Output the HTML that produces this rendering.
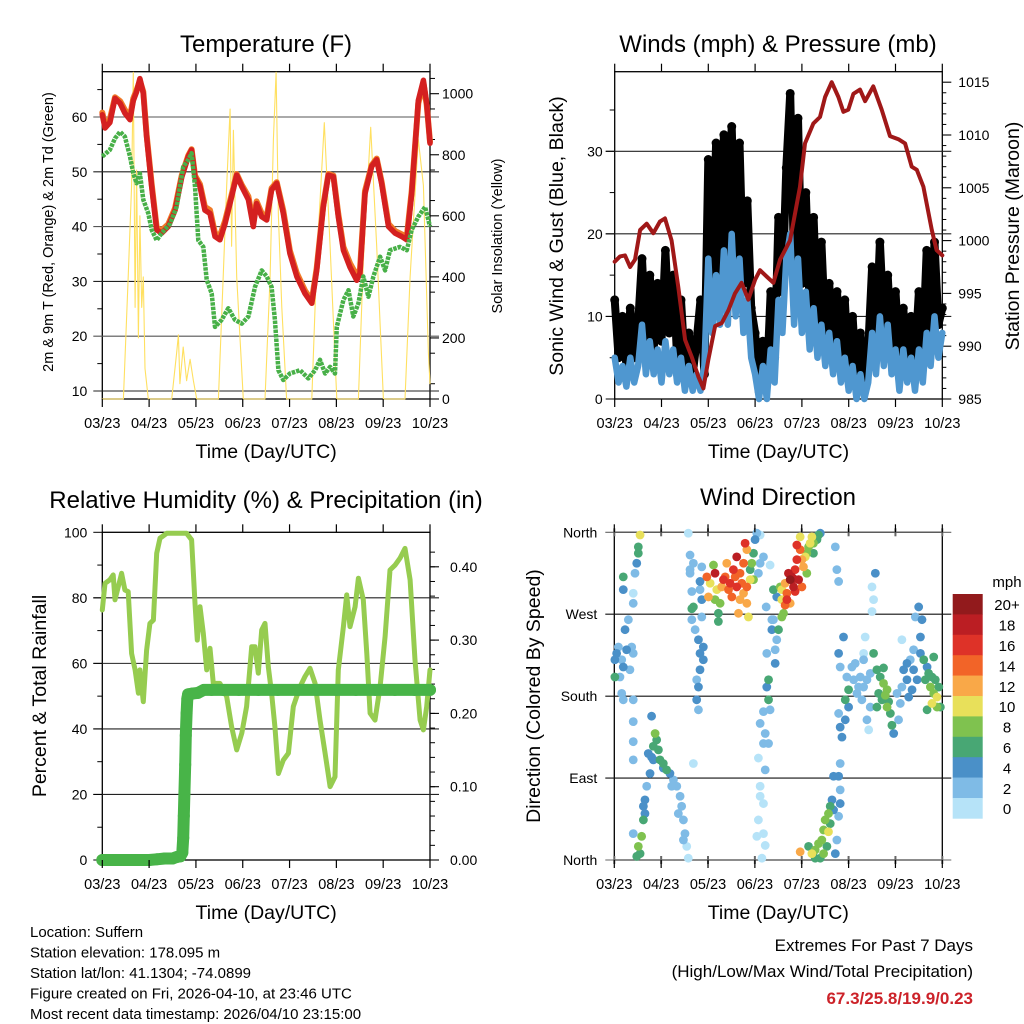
<!DOCTYPE html>
<html><head><meta charset="utf-8"><title>Station Meteogram</title>
<style>
html,body{margin:0;padding:0;background:#fff;}
svg{display:block;font-family:"Liberation Sans",Arial,sans-serif;}
</style></head>
<body>
<svg id="chart" width="1024" height="1024" viewBox="0 0 1024 1024" xmlns="http://www.w3.org/2000/svg">
<rect x="0" y="0" width="1024" height="1024" fill="#fff"/>
</svg>
<script>
// ---------- data ----------
const dayLabels = ["03/23","04/23","05/23","06/23","07/23","08/23","09/23","10/23"];
const tempHours = [0,1.4,3.9,6.5,9.1,11.6,14.2,15.9,17.6,19.3,21,22.7,25.3,27.9,30.4,33.8,37.3,40.7,44.1,45.8,47.5,50.1,52.6,55.2,57.8,60.3,62.9,66.3,68.9,71.5,74.9,77.4,79.1,81.7,84.3,86.8,89.4,92.8,96.2,99.7,103.9,107.4,109.9,113.3,115.9,118.5,121,123.6,127,130.4,132.1,134.7,138.1,140.7,143.2,146.7,150.1,153.5,156.1,158.6,162,164.6,166.3,168];
const tempF = [60.4,58,59,63.4,62.5,60.7,59.5,63,64.6,67,64.3,56.4,47.3,39.4,38.8,40,43,49,52.8,54,49,47.3,43,42.4,38.2,37.6,40.5,45.4,49.4,47.3,44.9,40,44.2,41.8,41.2,46.7,47.9,42.4,35.1,30.9,27.8,26,32,43.6,49.4,49.1,41.8,35.7,32.6,30.2,31.5,46,51,52.2,47.9,40,38.8,38.2,37.6,46,63,66.7,62.5,55.2];
const tempF9m = [60.8,58.6,59.6,63.6,62.9,61.3,60.1,63.4,64.9,66.6,64.6,56.8,47.7,39.8,39.3,40.4,43.4,49.3,53,54.1,49.3,47.7,43.6,43,38.8,38.3,41,45.8,49.6,47.6,45.5,40.7,44.6,42.4,41.8,47,48.1,42.9,35.6,31.5,28.3,26.5,32.4,43.9,49.6,49.3,42.3,36.3,33.3,31.1,32.2,46.5,51.2,52.4,48.2,40.5,39.2,38.6,38.1,46.5,62.5,66.2,62.2,55.5];
const dewHours = [0,3.9,6.5,9.1,11.6,14.2,15.9,17.6,19.3,21,23.6,25.3,27.9,30.4,34.7,38.1,41.5,44.1,45.8,47.5,49.2,51.8,53.5,56.1,57.8,61.2,64.6,68,71.5,74.9,78.3,81.7,84.3,86.8,88.5,90.3,92.8,96.2,101.4,105.6,109.1,111.6,114.2,116.8,119.3,120.2,123.6,126.2,128.7,131.3,133.8,136.4,139,142.4,145,147.5,152.6,156.1,158.6,162,165.5,168];
const dewF = [52.8,54,56.1,57.3,56.4,52.8,49.7,47.9,49.7,44.9,42.4,39.4,37.5,38.8,40.5,43.6,50.9,52.2,53.4,47.3,37.5,36.3,30.3,27.8,21.7,23,25.1,23,22.3,23.6,29,32,30.9,29,23,13.8,12,13.2,13.8,12.3,13.8,15.7,13.2,14.4,13.2,21.7,26.6,28.4,23.6,26,30.9,27.2,30.9,34.5,32,35.7,36.3,35.7,39.4,41.8,43.6,40];
const solarHours = [0,10.8,13.3,15,15.9,16.8,17.6,18.5,19.3,20.2,21,21.9,23.6,35.6,38.1,39,39.8,41.5,43.2,45,46.7,48.4,59.5,62,63.8,65.5,66.3,67.2,68.9,70.6,72.3,83.4,86,87.7,89.1,90.3,92,94.5,107.4,109.9,113.8,116.8,120.2,131.3,133.8,137.6,140.7,144.1,155.2,157.8,162,164.6,167.2,168];
const solarWm2 = [0,0,400,700,1070,300,750,200,600,300,400,100,0,0,150,210,50,170,60,130,60,0,0,400,700,950,500,880,400,200,0,0,400,850,1070,600,300,0,0,450,905,500,0,0,450,890,500,0,0,400,850,700,150,50];
const tempTicks = [10,20,30,40,50,60];
const solarTicks = [0,200,400,600,800,1000];

const windTicks = [0,10,20,30];
const pressTicks = [985,990,995,1000,1005,1010,1015];
const gustMph = [12,5,10,4,11,5,9,17,7,15,6,14,7,18,8,15,5,12,4,8,3,7,12,3,29,14,31,13,32,15,33,16,31,14,24,11,8,1,7,2,13,5,22,13,28,37,16,34,14,25,11,22,9,19,8,14,6,13,5,12,3,10,2,8,1,6,16,7,19,9,15,6,13,5,11,4,10,5,13,6,18,8,19,9,11];
const windMph = [5,2,4,1.5,5,2,4,9,3,7,3,6,2,7,3,6,2,5,1,4,1,3,1,4,17,8,15,9,18,9,20,10,17,8,12,5,3,0,4,0,6,2,12,8,17,20,9,17,8,13,6,11,5,9,4,8,3,7,2,5,1,4,0,3,0,2,8,3,10,4,9,3,6,1,6,2,5,1,6,2,8,4,10,5,8];
const pressHours = [0,2.7,5.3,7.9,10.4,13,16.4,19.8,23.2,25.8,29.2,32.6,36.1,39.5,42.9,45.5,48,51.5,54.9,58.3,61.7,65.1,68.5,72,74.5,77.9,81.4,84.8,89.9,95,97.6,101.9,105.3,107.9,111.3,114.7,117.3,119.8,122.4,125.8,128.4,132.6,136.9,141.2,145.5,148.9,152.3,154.9,158.3,162.6,165.1,168];
const pressMb = [998,998.5,998.6,997.5,998.2,1001,1001.6,1000.7,1001.8,1002.1,1000,995.6,990.6,989,987.1,986,988.7,991.9,992.2,993.4,995,996,994.4,996.3,997.2,996.6,996,998.2,1000,1005.1,1009.2,1011.1,1011.7,1013.6,1015,1013.6,1012.2,1012.4,1013.9,1014.3,1013.2,1014.6,1012.4,1009.9,1009.6,1009.2,1007,1006.7,1005.1,1001,999.1,998.6];

const rhTicks = [0,20,40,60,80,100];
const precipTicks = [0,0.1,0.2,0.3,0.4];
const rhHours = [0,1.4,3.9,5.6,6.5,8.2,9.9,11.6,13.3,15,16.8,18.5,19.3,21,22.7,24.4,26.2,27.9,29.6,33,43.2,45.8,47.5,48.7,50.1,51.8,53.5,55.2,56.9,60.3,63.8,66.3,68.9,71.5,74,76.6,78.3,80,81.7,83.4,85.1,86.8,88.5,90.3,92.8,95.4,97.9,101.4,103.9,106.5,109.1,111.6,114.2,116.8,119.3,121,123.6,125.3,127,129.6,131.3,133.8,135.6,137.3,139.8,142.4,145,147.5,150.1,152.6,155.2,157.8,160.3,162.9,164.6,166.3,168];
const rhPct = [76.3,84.4,85.5,87,79.4,83.4,87.5,82.4,81.9,63,58,50.9,58,48.3,64,72.2,73.2,93.6,98.2,99.7,99.7,97.7,78.3,67.1,77.3,69.2,58,64.6,53.9,53.9,49.8,40.7,33.6,38.7,46.8,65.1,65.1,57,70.2,72.2,59,50.9,40.7,26.4,30.5,32.6,46.8,52.9,56,58.5,53.9,42.7,32.6,22.4,25.4,58,71.2,80.9,71.2,77.3,86,79.4,63,44.8,42.7,52.9,68.2,88.5,90,92.1,95.1,85.5,61,42.7,39.7,46.8,58];
const precipHours = [0,4,8,12,16,20,24,28,32,36,38,40,41,41.5,41.8,42.1,42.5,42.8,43.2,43.6,44,46,49,52,56,62,70,80,90,100,110,120,130,140,150,160,168];
const precipIn = [0,0,0,0,0,0,0,0.001,0.002,0.002,0.004,0.005,0.01,0.03,0.06,0.09,0.13,0.17,0.2,0.22,0.226,0.227,0.228,0.232,0.232,0.232,0.232,0.232,0.232,0.232,0.232,0.232,0.232,0.232,0.232,0.232,0.232];

const dirTickLabels = ["North","East","South","West","North"];
const dirTickValues = [0,90,180,270,360];
const speedBins = ["0","2","4","6","8","10","12","14","16","18","20+"];
const speedColors = ["#b6e3f8","#7fbbe6","#4a90c8","#48a774","#7fc24f","#e8e05a","#f9a848","#f26428","#de3228","#bb1e23","#921a1c"];
const dirObs = [
[13.2,357,10],[12.3,344,7],[11.5,326,4],[9.7,293,1],[9.7,282,2],[4.6,311,6],[4.6,297,4],[12.3,337,7],[10.6,315,3],
[0.3,220,4],[2.1,234,3],[5.5,253,4],[7.2,264,3],[8.9,234,3],[4.6,212,4],[2.9,201,3],[9.7,227,3],[3.8,183,3],[4.6,176,3],[9.7,176,3],[9.7,152,3],[9.7,130,3],[9.7,110,3],[0.3,201,6],[1.2,227,4],[6.3,231,4],[8,209,3],[3.8,220,2],
[11.5,4,6],[12.3,15,8],[14,26,8],[14.9,44,6],[14.9,59,4],[15.7,66,4],[16.6,81,3],[18.3,95,4],[19.1,113,5],[20,125,6],[20.9,139,8],[21.7,132,7],[23.4,110,6],[25.1,101,5],[26.8,99,6],[28.5,95,4],[30.3,88,3],[32,81,3],[33.7,70,3],[34.5,59,2],[35.4,44,2],[36.2,29,2],[37.1,15,1],[37.9,2,1],[19.1,158,4],[40.5,106,1],[9.7,29,3],[13.2,7,7],[17.4,117,5],[22.6,121,6],[15.7,51,4],[20,110,4],[25.1,106,6],[29.4,81,3],[32.8,51,2],[35.4,22,2],
[37.9,359,1],[38.8,335,2],[38.8,315,2],[39.7,295,3],[40.5,278,7],[39.7,264,3],[41.4,253,3],[43.1,242,4],[43.9,227,4],[45.6,220,4],[43.9,209,4],[43.1,190,4],[42.2,176,4],[43.1,165,3],[44.8,286,4],[43.9,306,4],[40.5,326,3],[44.8,267,3],[42.2,198,3],[45.6,234,4],
[47.4,311,14],[49.1,304,10],[51.6,315,18],[51.6,286,8],[53.3,271,6],[53.3,262,6],[55,300,12],[56.8,311,15],[57.6,326,13],[59.3,304,16],[61,319,16],[62.7,333,18],[62.7,300,17],[64.4,315,14],[66.2,326,14],[66.2,293,13],[67.9,282,12],[67.9,341,13],[69.6,308,10],[70.4,326,8],[71.3,337,7],[72.1,352,4],[73,359,2],[67,348,17],[68.7,267,11],[63.6,271,12],[48.2,289,12],[54.2,282,8],[60.2,289,14],[50.8,324,8],[43.9,297,3],[38.8,319,2],[44.8,322,2],[39.7,276,6],[55.9,308,16],[58.5,297,15],[61.9,311,15],[65.3,304,14],[52.5,297,10],[64.4,286,12],[67.9,300,15],[71.3,308,9],[69.6,319,6],
[74.7,357,1],[74.7,326,2],[73.8,315,3],[76.4,333,2],[79.8,324,1],[77.8,278,2],[81.5,264,3],[80.7,253,4],[83.2,242,3],[82.4,231,3],[78.1,227,3],[82.4,216,4],[79,198,6],[78.1,190,4],[79,176,7],[79.8,165,3],[76.4,163,2],[74.7,150,2],[77.3,139,2],[76.4,128,3],[79,128,3],[73.8,112,1],[77.3,99,2],[74.7,81,1],[74.7,70,1],[76.4,62,1],[73.8,44,1],[76.4,29,1],[73,26,1],[77.3,16,1],[75.6,2,1],[84.1,253,6],[80.7,264,2],
[81.5,297,6],[83.2,289,4],[85,300,9],[85.8,286,10],[86.7,271,8],[87.5,304,12],[88.4,293,14],[89.2,315,18],[90.9,311,19],[91.8,300,18],[92.6,319,17],[93.5,330,16],[94.4,308,18],[95.2,341,14],[96.1,300,15],[96.9,322,12],[97.8,333,10],[98.6,315,8],[99.5,344,8],[101.2,355,10],[102,337,7],[103.8,352,6],[105.5,359,5],[95.2,355,11],[90.1,282,12],[85.8,267,8],[87.5,280,14],[93.5,346,17],[100.3,348,10],[90.1,308,20],[91.8,309,19],[92.6,295,17],[88.4,286,16],[85.8,297,11],[96.1,330,13],[98.6,337,9],[102,348,8],[104.6,357,6],
[95.2,9,13],[99.5,15,7],[101.2,7,11],[102.9,11,8],[104.6,18,9],[106.3,22,8],[107.2,33,9],[108,44,8],[109.7,51,9],[109.7,31,10],[110.6,59,7],[111.5,66,4],[112.3,55,5],[113.2,7,5],[114,22,3],[114.9,48,3],[115.7,62,4],[115.7,77,3],[114.9,92,4],[115.7,106,3],[112.3,92,4],[105.5,2,6],[102.9,2,7],[108.9,15,7],[110.6,40,6],[107.2,7,8],
[113.2,344,2],[114,319,2],[114.9,306,3],[117.4,245,4],[114.9,227,4],[115.7,212,2],[119.1,201,3],[120,187,6],[118.3,176,6],[120,168,5],[118.3,154,4],[115.7,146,4],[116.6,135,4],[114.9,161,2],[123.4,216,2],[126,201,3],[127.7,220,2],[124.3,183,2],[129.4,198,2],[131.1,168,2],[129.4,154,2],[130.3,143,1],[128.5,245,1],[127.7,227,1],[132.8,227,7],[134.5,209,6],[137.9,211,7],[137.9,194,9],[139.7,187,8],[135.4,183,6],[137.1,176,6],[134.5,168,6],[139.7,168,8],[141.4,161,7],[142.2,148,6],[143.1,139,4],[145.6,154,2],[146.5,172,2],[147.3,242,1],[132,300,1],[132.8,286,1],[133.7,315,4],[132,273,1],[148.2,209,4],[149.9,198,4],[151.6,220,3],[153.3,231,2],[152.5,187,4],[154.2,267,3],[155.9,278,4],[157.6,264,4],[156.8,245,4],[156.8,227,4],[158.5,220,6],[159.3,198,7],[161,205,6],[161.9,190,8],[163.6,183,8],[165.3,179,10],[162.7,172,10],[163.6,223,6],[167,168,7],[160.2,165,7],[166.2,190,6],[147.3,190,3],[150.8,179,4],[144.8,183,3],[122.6,198,3],[125.1,190,2],[126.8,176,3],[149.9,216,4],[153.3,209,4],[155.1,198,4],[160.2,212,4],[162.7,201,7],[164.4,198,6],[165.3,168,8],[136.2,201,7],[138.8,181,8],[140.5,174,7],[121.7,212,3],[127.7,190,2],[131.1,205,2]
];
const dirHours = dirObs.map(o=>o[0]);
const dirDegrees = dirObs.map(o=>o[1]);
const dirSpeeds = dirObs.map(o=>o[2]);

const infoLines = ["Location: Suffern","Station elevation: 178.095 m","Station lat/lon: 41.1304; -74.0899","Figure created on Fri, 2026-04-10, at 23:46 UTC","Most recent data timestamp: 2026/04/10 23:15:00"];
const extremesText = "67.3/25.8/19.9/0.23";

// ---------- helpers ----------
const NS="http://www.w3.org/2000/svg";
const svg=document.getElementById('chart');
function mk(tag,attrs,parent){const e=document.createElementNS(NS,tag);for(const k in attrs)e.setAttribute(k,attrs[k]);(parent||svg).appendChild(e);return e;}
function txt(s,x,y,size,anchor,parent,extra){const e=mk('text',Object.assign({x:x,y:y,'font-size':size,'text-anchor':anchor||'start',fill:'#000'},extra||{}),parent);e.textContent=s;return e;}
function grp(name){const g=mk('g',{});return g;}
const HOURS=168;

function xAxis(P,g){
  const ax=grp(P.id+'-x-axis');
  for(let i=0;i<dayLabels.length;i++){
    const x=P.x(i*24);
    const tb=mk('line',{x1:x,x2:x,y1:P.bottom,y2:P.bottom+8,stroke:'#000','stroke-width':1.2},ax);
    
    
    const tt=mk('line',{x1:x,x2:x,y1:P.top,y2:P.top-8,stroke:'#000','stroke-width':1.2},ax);
    
    
    const l=txt(dayLabels[i],x,P.bottom+29,14.5,'middle',ax);
    
    
  }
  const t=txt('Time (Day/UTC)',(P.x0+P.x1)/2,P.bottom+59,19.5,'middle',ax);
  
  
}
function box(P,g){
  const r=mk('rect',{x:P.x0,y:P.top,width:P.x1-P.x0,height:P.bottom-P.top,fill:'none',stroke:'#000','stroke-width':1.3},g);
  
  
}
function polyline(pts,attrs,parent,name){
  const p=mk('polyline',Object.assign({points:pts.map(q=>q[0].toFixed(1)+','+q[1].toFixed(1)).join(' '),fill:'none','stroke-linejoin':'round','stroke-linecap':'round'},attrs),parent);
  
  
  return p;
}

// ---------- Panel 1: Temperature ----------
(function(){
  const P={id:'temperature',x0:102.3,x1:430,top:71.7,bottom:399};
  P.x=h=>P.x0+h/HOURS*(P.x1-P.x0);
  const yT=v=>391-(v-10)*5.48;
  const yS=v=>399-v*0.3053;
  const g=grp('temperature-panel');
  const t=txt('Temperature (F)',266,52,24,'middle',g);
  
  
  const grid=grp('temperature-grid');
  tempTicks.forEach(v=>{const y=yT(v);
    const gl=mk('line',{x1:P.x0-9,x2:P.x1+9,y1:y,y2:y,stroke:(v%20===0?'#555':'#222'),'stroke-width':1.1},grid);
    
    
    const l=txt(String(v),P.x0-15,y+5,14,'end',grid);
    
    
  });
  [15,25,35,45,55,65].forEach(v=>{const y=yT(v);mk('line',{x1:P.x0-5,x2:P.x0,y1:y,y2:y,stroke:'#000'},grid);});
  solarTicks.forEach(v=>{const y=yS(v);
    mk('line',{x1:P.x1,x2:P.x1+9,y1:y,y2:y,stroke:'#000','stroke-width':1.1},grid);
    const l=txt(String(v),P.x1+12,y+5,14,'start',grid);
    
    
  });
  for(let v=50;v<=1050;v+=100){const y=yS(v);mk('line',{x1:P.x1,x2:P.x1+5,y1:y,y2:y,stroke:'#000'},grid);}
  const s=grp('solar-series');
  polyline(solarHours.map((h,i)=>[P.x(h),yS(solarWm2[i])]),{stroke:'#ffe060','stroke-width':1.1},s,'solar-insolation-line');
  const tg=grp('temperature-series');
  polyline(tempHours.map((h,i)=>[P.x(h),yT(tempF9m[i])]),{stroke:'#f07a28','stroke-width':6},tg,'temperature-9m-line');
  polyline(tempHours.map((h,i)=>[P.x(h),yT(tempF[i])]),{stroke:'#d42020','stroke-width':5.5},tg,'temperature-2m-line');
  const dg=grp('dewpoint-series');
  polyline(dewHours.map((h,i)=>[P.x(h),yT(dewF[i])]),{stroke:'#48b048','stroke-width':4.5,'stroke-dasharray':'3.5 1','stroke-linecap':'butt'},dg,'dewpoint-line');
  box(P,g);
  xAxis(P,g);
  const yl=txt('2m & 9m T (Red, Orange) & 2m Td (Green)',0,0,14.5,'middle',g,{transform:'translate(53,232) rotate(-90)'});
  
  
  const yr=txt('Solar Insolation (Yellow)',0,0,14.5,'middle',g,{transform:'translate(502,236) rotate(-90)'});
  
  
})();

// ---------- Panel 2: Winds ----------
(function(){
  const P={id:'winds',x0:614.7,x1:942.3,top:71.7,bottom:399};
  P.x=h=>P.x0+h/HOURS*(P.x1-P.x0);
  const yW=v=>399-v*8.257;
  const yP=v=>399-(v-985)*10.56;
  const g=grp('winds-panel');
  const t=txt('Winds (mph) & Pressure (mb)',778,52,24,'middle',g);
  
  
  const grid=grp('winds-grid');
  windTicks.forEach(v=>{const y=yW(v);
    if(v>0){const gl=mk('line',{x1:P.x0-9,x2:P.x1+9,y1:y,y2:y,stroke:'#222','stroke-width':1.1},grid);
      
      }
    mk('line',{x1:P.x0-9,x2:P.x0,y1:y,y2:y,stroke:'#000'},grid);
    const l=txt(String(v),P.x0-12,y+5,14,'end',grid);
    
    
  });
  [5,15,25,35].forEach(v=>{const y=yW(v);mk('line',{x1:P.x0-5,x2:P.x0,y1:y,y2:y,stroke:'#000'},grid);});
  pressTicks.forEach(v=>{const y=yP(v);
    mk('line',{x1:P.x1,x2:P.x1+9,y1:y,y2:y,stroke:'#000','stroke-width':1.1},grid);
    const l=txt(String(v),P.x1+16,y+5,14,'start',grid);
    
    
  });
  for(let v=986;v<=1015;v++){if(v%5){const y=yP(v);mk('line',{x1:P.x1,x2:P.x1+4,y1:y,y2:y,stroke:'#000'},grid);}}
  const gg=grp('gust-series');
  const gp=gustMph.map((v,i)=>[P.x(i*2),yW(v)]);
  polyline(gp,{stroke:'#000','stroke-width':8},gg,'gust-trace');
  gp.forEach(p=>{const c=mk('circle',{cx:p[0],cy:p[1],r:4.5,fill:'#000'},gg);
    
    });
  const wg=grp('wind-series');
  polyline(windMph.map((v,i)=>[P.x(i*2),yW(v)]),{stroke:'#4f97d0','stroke-width':6.5},wg,'sonic-wind-line');
  const pg=grp('pressure-series');
  polyline(pressHours.map((h,i)=>[P.x(h),yP(pressMb[i])]),{stroke:'#a01818','stroke-width':4},pg,'pressure-line');
  box(P,g);
  xAxis(P,g);
  const yl=txt('Sonic Wind & Gust (Blue, Black)',0,0,19.5,'middle',g,{transform:'translate(563,236) rotate(-90)'});
  
  
  const yr=txt('Station Pressure (Maroon)',0,0,19.5,'middle',g,{transform:'translate(1019,236) rotate(-90)'});
  
  
})();

// ---------- Panel 3: RH & Precip ----------
(function(){
  const P={id:'humidity',x0:102.3,x1:430,top:532.3,bottom:860};
  P.x=h=>P.x0+h/HOURS*(P.x1-P.x0);
  const yR=v=>860-v*3.277;
  const yPr=v=>860-v*733;
  const g=grp('humidity-panel');
  const t=txt('Relative Humidity (%) & Precipitation (in)',266,508,24,'middle',g);
  
  
  const grid=grp('humidity-grid');
  rhTicks.forEach(v=>{const y=yR(v);
    if(v>0&&v<100){const gl=mk('line',{x1:P.x0-9,x2:P.x1+9,y1:y,y2:y,stroke:'#222','stroke-width':1.1},grid);
      
      }
    mk('line',{x1:P.x0-9,x2:P.x0,y1:y,y2:y,stroke:'#000'},grid);
    const l=txt(String(v),P.x0-15,y+5,14,'end',grid);
    
    
  });
  [10,30,50,70,90].forEach(v=>{const y=yR(v);mk('line',{x1:P.x0-5,x2:P.x0,y1:y,y2:y,stroke:'#000'},grid);});
  precipTicks.forEach(v=>{const y=yPr(v);
    mk('line',{x1:P.x1,x2:P.x1+9,y1:y,y2:y,stroke:'#000','stroke-width':1.1},grid);
    const l=txt(v.toFixed(2),P.x1+20,y+5,14,'start',grid);
    
    
  });
  for(let v=0.02;v<0.44;v+=0.02){const y=yPr(v);mk('line',{x1:P.x1,x2:P.x1+5,y1:y,y2:y,stroke:'#000'},grid);}
  const rg=grp('humidity-series');
  polyline(rhHours.map((h,i)=>[P.x(h),yR(rhPct[i])]),{stroke:'#96cc50','stroke-width':5},rg,'humidity-line');
  const pg=grp('precip-series');
  const pp=precipHours.map((h,i)=>[P.x(h),yPr(precipIn[i])]);
  polyline(pp,{stroke:'#48b448','stroke-width':12},pg,'precip-line');
  pp.forEach(p=>{const c=mk('circle',{cx:p[0],cy:p[1],r:6,fill:'#48b448'},pg);
    
    });
  box(P,g);
  xAxis(P,g);
  const yl=txt('Percent & Total Rainfall',0,0,19.5,'middle',g,{transform:'translate(46,696) rotate(-90)'});
  
  
})();

// ---------- Panel 4: Wind Direction ----------
(function(){
  const P={id:'direction',x0:614.3,x1:942.3,top:532.3,bottom:860};
  P.x=h=>P.x0+h/HOURS*(P.x1-P.x0);
  const yD=d=>860-d/360*327.7;
  const g=grp('direction-panel');
  const t=txt('Wind Direction',778,505,24,'middle',g);
  
  
  const grid=grp('direction-grid');
  dirTickValues.forEach((v,i)=>{const y=yD(v);
    const gl=mk('line',{x1:P.x0-9,x2:P.x1+9,y1:y,y2:y,stroke:(v%360===0?'#666':'#111'),'stroke-width':1.1},grid);
    
    
    const l=txt(dirTickLabels[i],P.x0-17,y+5,14,'end',grid);
    
    
  });
  const bin=s=>Math.min(10,Math.max(0,Math.floor(s/2)));
  const sg=grp('direction-scatter');
  const order=dirSpeeds.map((s,i)=>i).sort((a,b)=>dirSpeeds[a]-dirSpeeds[b]);
  order.forEach(i=>{
    const c=mk('circle',{cx:P.x(dirHours[i]),cy:yD(dirDegrees[i]),r:4.4,fill:speedColors[bin(dirSpeeds[i])]},sg);
    
    
  });
  box(P,g);
  for(let i=0;i<dayLabels.length;i++){const x=P.x(i*24);
    mk('line',{x1:x,x2:x,y1:P.bottom-4,y2:P.bottom+4,stroke:'#666','stroke-width':2},g);
    mk('line',{x1:x,x2:x,y1:P.top-4,y2:P.top+4,stroke:'#666','stroke-width':2},g);}
  xAxis(P,g);
  const yl=txt('Direction (Colored By Speed)',0,0,19.5,'middle',g,{transform:'translate(540,696) rotate(-90)'});
  
  
  const cb=grp('speed-colorbar');
  const bh=20.4, cbTop=594;
  for(let k=0;k<speedBins.length;k++){
    const idx=speedBins.length-1-k;
    const y=cbTop+k*bh;
    const r=mk('rect',{x:952.7,y:y,width:30,height:bh+0.3,fill:speedColors[idx]},cb);
    
    
    const l=txt(speedBins[idx],1007,y+bh/2+6,15,'middle',cb);
    
    
  }
  const u=txt('mph',1007,587,15,'middle',cb);
  
  
})();

// ---------- footer ----------
(function(){
  const g=grp('station-info');
  infoLines.forEach((s,i)=>{const l=txt(s,30,937+i*20.5,15,'start',g);
    
    });
  const e=grp('extremes-summary');
  const a=txt('Extremes For Past 7 Days',973,951,17,'end',e);
  
  
  const b=txt('(High/Low/Max Wind/Total Precipitation)',973,977,17,'end',e);
  
  
  const c=txt(extremesText,973,1004,17,'end',e,{fill:'#cc2229','font-weight':'bold'});
  
  
})();
</script>
</body></html>
